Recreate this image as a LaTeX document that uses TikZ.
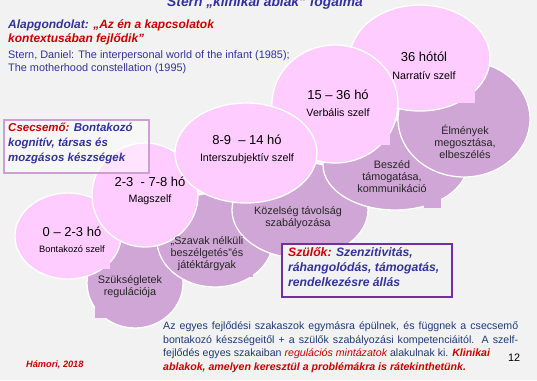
\documentclass[tikz,border=0pt]{standalone}
\usepackage{fontspec}
\setmainfont{Liberation Sans}
\usetikzlibrary{shapes.geometric}
\definecolor{bgc}{RGB}{242,242,242}
\definecolor{pinkf}{RGB}{255,204,255}
\definecolor{purf}{RGB}{207,166,213}
\definecolor{tblue}{RGB}{51,51,153}
\definecolor{tred}{RGB}{204,0,0}
\definecolor{navy}{RGB}{31,56,120}
\definecolor{lilac}{RGB}{204,160,210}
\definecolor{violet}{RGB}{112,48,160}
\tikzset{
  ellbase/.style={ellipse,inner sep=0pt,draw=white,line width=1.3pt},
  pinkell/.style={ellbase,fill=pinkf},
  purell/.style={ellbase,fill=purf},
  pinknotch/.style={fill=pinkf,draw=none},
  purnotch/.style={fill=purf,draw=none},
  big/.style={font=\fontsize{13}{15}\selectfont,inner sep=0pt},
  small/.style={font=\fontsize{10.7}{12}\selectfont,inner sep=0pt},
  dark/.style={font=\fontsize{10.8}{12}\selectfont,align=center,inner sep=0pt,text=black!85},
}
\begin{document}
\begin{tikzpicture}[x=1pt,y=-1pt]
\useasboundingbox (0,0) rectangle (537,380);
\fill[bgc] (0,0) rectangle (537,380);

% dark purple ellipses (lower row)
\node[purell,minimum width=96pt,minimum height=90pt] (e1) at (135,283) {};
\fill[purnotch] (95,298) rectangle (113,318);
\node[purell,minimum width=116pt,minimum height=94pt] (e2) at (215,240) {};
\fill[purnotch] (238,258) rectangle (253,277);
\node[purell,minimum width=136pt,minimum height=96pt] (e3) at (300,210) {};
\node[purell,minimum width=144pt,minimum height=90pt] (e4) at (395,165) {};
\fill[purnotch] (424,193) rectangle (441,208);
\node[purell,minimum width=132pt,minimum height=116pt] (e5) at (464,119) {};

% pink ellipses (upper row)
\node[pinkell,minimum width=106pt,minimum height=86pt] (p1) at (68,236) {};
\fill[pinknotch] (93,254) rectangle (110,269);
\node[pinkell,minimum width=106pt,minimum height=104pt] (p2) at (145,195) {};
\node[pinkell,minimum width=140pt,minimum height=106pt] (p5) at (420,58) {};
\fill[pinknotch] (452,88) rectangle (475,103);
\node[pinkell,minimum width=126pt,minimum height=118pt] (p4) at (335,104) {};
\fill[pinknotch] (372,128) rectangle (390,145);
\node[pinkell,minimum width=142pt,minimum height=100pt] (p3) at (246,153) {};

% ellipse texts
\node[big]   (t1a) at (72,232) {0 – 2-3 hó};
\node[small,font=\fontsize{9.3}{11}\selectfont] (t1b) at (72,249) {Bontakozó szelf};
\node[big]   (t2a) at (150,182) {2-3\ \ - 7-8 hó};
\node[small] (t2b) at (150,200) {Magszelf};
\node[big]   (t3a) at (247,140) {8-9\ \ – 14 hó};
\node[small] (t3b) at (247,159) {Interszubjektív szelf};
\node[big]   (t4a) at (338,95) {15 – 36 hó};
\node[small] (t4b) at (338,113) {Verbális szelf};
\node[big]   (t5a) at (424,57) {36 hótól};
\node[small] (t5b) at (424,76) {Narratív szelf};

\node[dark] (d1) at (130,287) {Szükségletek\\regulációja};
\node[dark] (d2) at (207,254) {„Szavak nélküli\\beszélgetés”és\\játéktárgyak};
\node[dark] (d3) at (298,218) {Közelség távolság\\szabályozása};
\node[dark] (d4) at (392,177) {Beszéd\\támogatása,\\kommunikáció};
\node[dark] (d5) at (465,142) {Élmények\\megosztása,\\elbeszélés};

% title
\node[anchor=base,inner sep=0pt,text=tblue,font=\fontsize{13.8}{16}\bfseries\itshape\selectfont] (title) at (265,6.5) {Stern „klinikai ablak” fogalma};

% Alapgondolat
\node[anchor=base west,inner sep=0pt,align=left,font=\fontsize{12}{14}\bfseries\itshape\selectfont] (alap) at (8,42)
  {\textcolor{tblue}{Alapgondolat:} \textcolor{tred}{„Az én a kapcsolatok}\\\textcolor{tred}{kontextusában fejlődik”}};
\node[anchor=base west,inner sep=0pt,align=left,text=tblue,font=\fontsize{10.9}{13}\selectfont] (stern) at (8,71)
  {Stern, Daniel: The interpersonal world of the infant (1985);\\The motherhood constellation (1995)};

% Csecsemő box
\node[draw=lilac,line width=2pt,fill=white,fill opacity=0.45,text opacity=1,anchor=north west,minimum width=145pt,minimum height=53pt,inner sep=0pt] (cbox) at (3,119) {};
\node[anchor=north west,inner sep=0pt,align=left,font=\fontsize{11.5}{15}\bfseries\itshape\selectfont] (ctext) at (8,123)
  {\textcolor{tred}{Csecsemő:} \textcolor{tblue}{Bontakozó}\\\textcolor{tblue}{kognitív, társas és}\\\textcolor{tblue}{mozgásos készségek}};

% Szülők box
\node[draw=violet,line width=1.8pt,fill=bgc,anchor=north west,minimum width=170pt,minimum height=53pt,inner sep=0pt] (sbox) at (281,243) {};
\node[anchor=north west,inner sep=0pt,align=left,font=\fontsize{12.2}{15}\bfseries\itshape\selectfont] (stext) at (288,247)
  {\textcolor{tred}{Szülők:} \textcolor{tblue}{Szenzitivitás,}\\\textcolor{tblue}{ráhangolódás, támogatás,}\\\textcolor{tblue}{rendelkezésre állás}};

% bottom paragraph
\node[anchor=base west,inner sep=0pt,text width=355pt,align=justify,text=navy,font=\fontsize{10.6}{13.5}\selectfont] (para) at (163,329.5)
  {Az egyes fejlődési szakaszok egymásra épülnek, és függnek a csecsemő\linebreak
   bontakozó készségeitől + a szülők szabályozási kompetenciáitól. A szelf-\linebreak
   fejlődés egyes szakaiban \textcolor{tred}{\itshape regulációs mintázatok} alakulnak ki. \textcolor{tred}{\bfseries\itshape Klinikai}\newline
   \textcolor{tred}{\bfseries\itshape ablakok, amelyen keresztül a problémákra is rátekinthetünk.}};

\node[anchor=base west,inner sep=0pt,text=tred,font=\fontsize{9.2}{11}\bfseries\itshape\selectfont] (hamori) at (26,367) {Hámori, 2018};
\node[anchor=base,inner sep=0pt,font=\fontsize{10.8}{12}\selectfont] (pnum) at (514,361) {12};
\end{tikzpicture}
\end{document}
